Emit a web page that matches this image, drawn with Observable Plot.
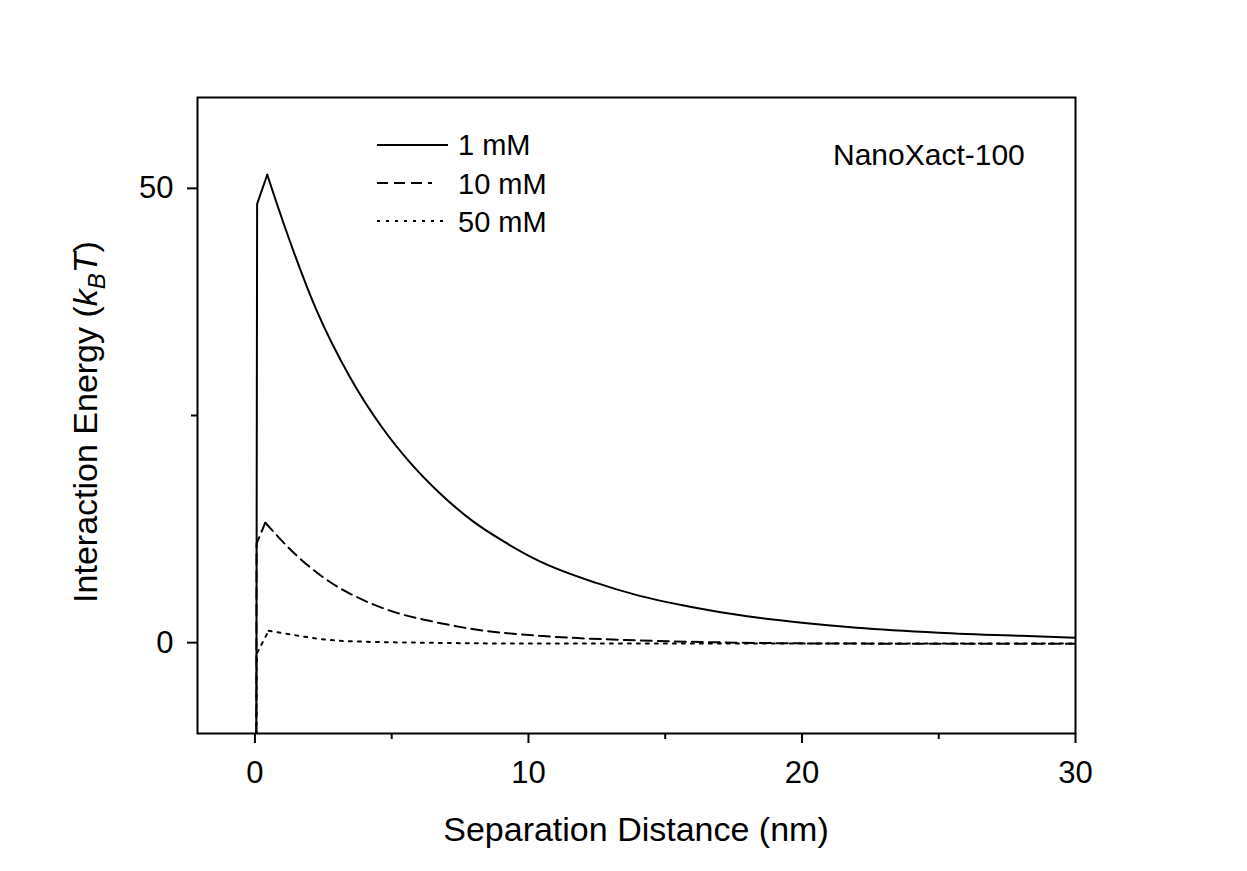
<!DOCTYPE html>
<html><head><meta charset="utf-8">
<script src="https://cdn.jsdelivr.net/npm/d3@7"></script>
<script src="https://cdn.jsdelivr.net/npm/@observablehq/plot@0.6"></script>
<style>body{margin:0;background:#fff}</style>
</head><body><div id="chart"></div>
<script>
// Tick values
const xTicks = [0, 10, 20, 30];
const xMinorTicks = [5, 15, 25];
const yTicks = [0, 50];
const yMinorTicks = [25];

// Series names
const seriesNames = ["1 mM", "10 mM", "50 mM"];

// 1 mM
const x1mM = [0.05, 0.08, 0.45, 1.03, 2.25, 3.46, 4.67, 5.65, 6.74, 7.95, 9.17, 10.38, 12.45, 14, 16, 18, 20, 22, 25, 28, 30];
const y1mM = [-12, 48.3, 51.5, 46.3, 36.6, 29.3, 23.6, 19.9, 16.5, 13.4, 11.0, 9.0, 6.6, 5.2, 3.9, 2.9, 2.2, 1.65, 1.1, 0.75, 0.55];

// 10 mM
const x10mM = [0.05, 0.06, 0.38, 1.52, 2.73, 3.95, 5.16, 6.38, 7.95, 10.4, 11.8, 14, 17, 20, 25, 30];
const y10mM = [-12, 10.9, 13.2, 9.6, 6.7, 4.7, 3.3, 2.4, 1.5, 0.75, 0.5, 0.25, 0.03, -0.08, -0.12, -0.12];

// 50 mM
const x50mM = [0.05, 0.07, 0.5, 1.5, 2.7, 4, 6, 10, 20, 30];
const y50mM = [-12, -1.2, 1.3, 0.8, 0.3, 0.1, 0.0, -0.1, -0.1, -0.1];

const seriesX = [x1mM, x10mM, x50mM];
const seriesY = [y1mM, y10mM, y50mM];
const peakIndex = [2, 2, 2];
const dashes = [null, "11,6", "3,6"];

const rows = seriesNames.flatMap((name, i) => seriesX[i].map((x, j) => ({series: name, i: j, x, y: seriesY[i][j]})));

const W = 1247, H = 871;
const font = "'Liberation Sans', Arial, sans-serif";

const lineMarks = seriesNames.flatMap((name, i) => {
  const s = rows.filter(d => d.series === name);
  const opts = {x: "x", y: "y", stroke: "#000", strokeWidth: 2, strokeDasharray: dashes[i], clip: true};
  return [
    Plot.line(s.filter(d => d.i <= peakIndex[i]), {...opts, curve: "linear"}),
    Plot.line(s.filter(d => d.i >= peakIndex[i]), {...opts, curve: "monotone-x"})
  ];
});

const plot = Plot.plot({
  width: W, height: H,
  marginLeft: 197, marginRight: 172, marginTop: 97, marginBottom: 138,
  style: {fontFamily: font, background: "#fff", color: "#000"},
  x: {domain: [-2.1, 30]},
  y: {domain: [-10, 60]},
  marks: [
    ...lineMarks,
    Plot.frame({stroke: "#000", strokeWidth: 2}),
    Plot.axisX({ticks: xTicks, tickSize: 10, tickPadding: 17, fontSize: 31, strokeWidth: 2, label: null, tickFormat: d => String(d)}),
    Plot.axisX({ticks: xMinorTicks, tickSize: 6, text: null, strokeWidth: 2, label: null}),
    Plot.axisY({ticks: yTicks, tickSize: 10, tickPadding: 14, fontSize: 31, strokeWidth: 2, label: null, tickFormat: d => String(d)}),
    Plot.axisY({ticks: yMinorTicks, tickSize: 6, text: null, strokeWidth: 2, label: null})
  ]
});
document.getElementById("chart").appendChild(plot);

const svg = d3.select(plot);

// Axis titles
svg.append("text").attr("x", 636).attr("y", 841).attr("text-anchor", "middle")
  .attr("font-family", font).attr("font-size", 34).attr("fill", "#000")
  .text("Separation Distance (nm)");

const yt = svg.append("text").attr("transform", "translate(97,422) rotate(-90)")
  .attr("text-anchor", "middle").attr("font-family", font).attr("font-size", 34).attr("fill", "#000");
yt.append("tspan").text("Interaction Energy (");
yt.append("tspan").attr("font-style", "italic").text("k");
yt.append("tspan").attr("font-style", "italic").attr("font-size", 24).attr("dy", 8).text("B");
yt.append("tspan").attr("font-style", "italic").attr("dy", -8).text("T");
yt.append("tspan").text(")");

// Legend
const legY = [145, 183, 221];
const legEnd = [448, 432, 448];
const legText = [155, 194, 232];
seriesNames.forEach((name, i) => {
  const l = svg.append("line").attr("x1", 377).attr("x2", legEnd[i]).attr("y1", legY[i]).attr("y2", legY[i])
    .attr("stroke", "#000").attr("stroke-width", 2);
  if (dashes[i]) l.attr("stroke-dasharray", dashes[i]);
  svg.append("text").attr("x", 458).attr("y", legText[i]).attr("text-anchor", "start")
    .attr("font-family", font).attr("font-size", 29).attr("fill", "#000").text(name);
});

// Annotation
svg.append("text").attr("x", 833).attr("y", 165).attr("text-anchor", "start")
  .attr("font-family", font).attr("font-size", 30).attr("fill", "#000").text("NanoXact-100");
</script>
</body></html>
